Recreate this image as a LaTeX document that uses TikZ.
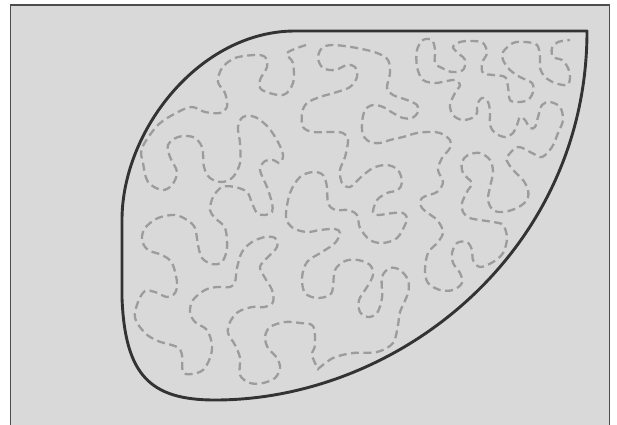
\documentclass[tikz,border=0pt]{standalone}
\usepackage{tikz}
\definecolor{paper}{HTML}{D9D9D9}
\definecolor{rim}{HTML}{4D4D4D}
\definecolor{outline}{HTML}{333333}
\definecolor{worm}{HTML}{9C9C9C}

\begin{document}
\begin{tikzpicture}[x=1pt,y=-1pt,
    leaf/.style={draw=outline, line width=2.9pt, line join=round},
    meander/.style={draw=worm, line width=2.3pt, dash pattern=on 8pt off 4.5pt}]
    \useasboundingbox (0,0) rectangle (617,424);
    \clip (0,0) rectangle (617,424);
    \fill[white] (0,0) rectangle (617,424);
    \draw[rim, fill=paper, line width=1.8pt] (10.5,5) rectangle (609.5,440);

    % leaf outline
    \draw[leaf] (295,31) -- (587,31)
        .. controls (587,250) and (400,400) .. (215,400)
        .. controls (150,400) and (125,375) .. (122,298)
        -- (122,220)
        .. controls (122,130) and (200,31) .. cycle;

    % the wandering dashed line
    \draw[meander] plot[smooth, tension=0.55] coordinates {
        (306,45) (287,53) (293,63) (293,83) (283,95) (262,90) (260,80) (267,67)
        (265,57) (255,55) (235,58) (222,68) (218,82) (225,93) (227,107) (220,113)
        (205,112) (192,107) (178,112) (158,125) (142,148) (143,163) (148,182)
        (162,190) (172,185) (177,172) (170,157) (168,145) (178,137) (193,137)
        (202,147) (204,167) (210,178) (222,182) (233,177) (240,163) (240,143)
        (238,127) (243,117) (255,117) (268,127) (278,142) (283,155) (280,163)
        (273,160) (265,161) (260,170) (267,187) (272,203) (272,212) (265,215)
        (257,213) (252,203) (247,192) (235,187) (222,187) (213,197) (210,210)
        (215,218) (225,228) (227,248) (222,262) (212,264) (202,258) (198,245)
        (195,228) (187,220) (175,215) (158,218) (145,228) (142,240) (148,250)
        (162,255) (172,263) (177,282) (175,293) (167,297) (155,292) (145,291)
        (138,302) (135,318) (145,333) (158,341) (177,347) (182,355) (183,372)
        (192,374) (203,370) (210,358) (212,345) (207,330) (195,322) (190,312)
        (193,300) (205,290) (217,287) (230,287) (235,282) (237,268) (242,252)
        (252,242) (265,237) (275,238) (277,247) (267,258) (260,267) (265,278)
        (272,290) (273,302) (265,307) (252,307) (238,312) (230,322) (228,333)
        (235,345) (240,358) (240,375) (250,383) (263,383) (275,378) (280,368)
        (277,358) (268,348) (265,337) (270,327) (285,322) (300,323) (313,326)
        (315,345) (312,355) (318,369)}
      -- plot[smooth, tension=0.55] coordinates {
        (318,369) (333,358) (353,353) (377,352) (393,343) (398,325) (400,312)
        (408,293) (408,280) (400,270) (390,268) (382,277) (382,298) (377,313)
        (368,317) (360,312) (359,300) (367,287) (373,275) (370,265) (358,260)
        (345,261) (335,270) (333,287) (330,295) (317,298) (305,293) (302,278)
        (307,262) (322,252) (335,243) (340,233) (335,229) (320,230) (307,232)
        (293,228) (286,217) (290,193) (300,177) (313,172) (323,175) (327,187)
        (328,203) (335,210) (348,210) (357,215) (360,228) (370,240) (383,243)
        (397,238) (405,225) (407,218) (403,213) (393,213) (378,215) (373,212)
        (377,200) (387,193) (398,190) (402,182) (398,170) (387,165) (373,168)
        (360,178) (350,187) (342,183) (340,170) (345,157) (348,140) (343,133)
        (330,132) (313,132) (303,127) (302,113) (307,103) (320,97) (337,92)
        (350,87) (357,77) (355,67) (347,65) (335,70) (323,68) (318,58) (322,48)
        (333,45) (357,48) (377,53) (388,60) (390,73) (387,88) (393,95) (407,100)
        (417,105) (418,112) (412,118) (403,118) (393,113) (383,107) (373,105)
        (365,110) (362,123) (363,135) (370,142) (380,143) (390,140) (403,137)
        (417,133) (430,132) (440,133) (450,140) (450,148) (442,158) (438,170)
        (443,182) (437,192) (422,198) (422,208) (437,220) (443,232) (438,242)
        (428,253) (425,270) (428,283) (440,290) (453,290) (462,283) (460,273)
        (453,263) (452,253) (457,243) (467,242) (472,250) (473,260) (480,267)
        (493,262) (503,253) (507,238) (503,225) (493,222) (480,220) (470,218)
        (463,212) (462,203) (468,190) (472,183) (463,173) (462,162) (468,155)
        (480,153) (490,160) (493,172) (490,187) (488,200) (493,210) (503,212)
        (517,208) (527,200) (528,190) (523,180) (515,172) (508,163) (507,157)
        (518,147) (532,153) (542,157) (552,147) (558,133) (563,120) (560,107)
        (550,102) (542,105) (538,117) (535,127) (530,128) (525,120) (520,117)
        (517,125) (513,133) (505,137) (495,133) (490,125) (490,112) (488,102)
        (482,98) (477,105) (477,113) (472,118) (462,120) (453,115) (450,105)
        (455,93) (460,85) (455,80) (442,82) (435,83) (423,80) (417,67) (417,50)
        (423,40) (432,40) (435,50) (435,63) (442,68) (452,72) (463,70) (465,60)
        (458,53) (453,47) (460,42) (472,41) (483,43) (487,53) (482,63) (483,73)
        (493,75) (505,77) (508,87) (510,100) (518,102) (528,100) (533,92)
        (532,83) (520,77) (510,70) (503,60) (503,52) (513,43) (525,42) (537,45)
        (540,57) (540,68) (545,77) (555,83) (567,85) (570,78) (568,68) (562,60)
        (553,57) (552,48) (558,42) (570,40)};
\end{tikzpicture}
\end{document}
